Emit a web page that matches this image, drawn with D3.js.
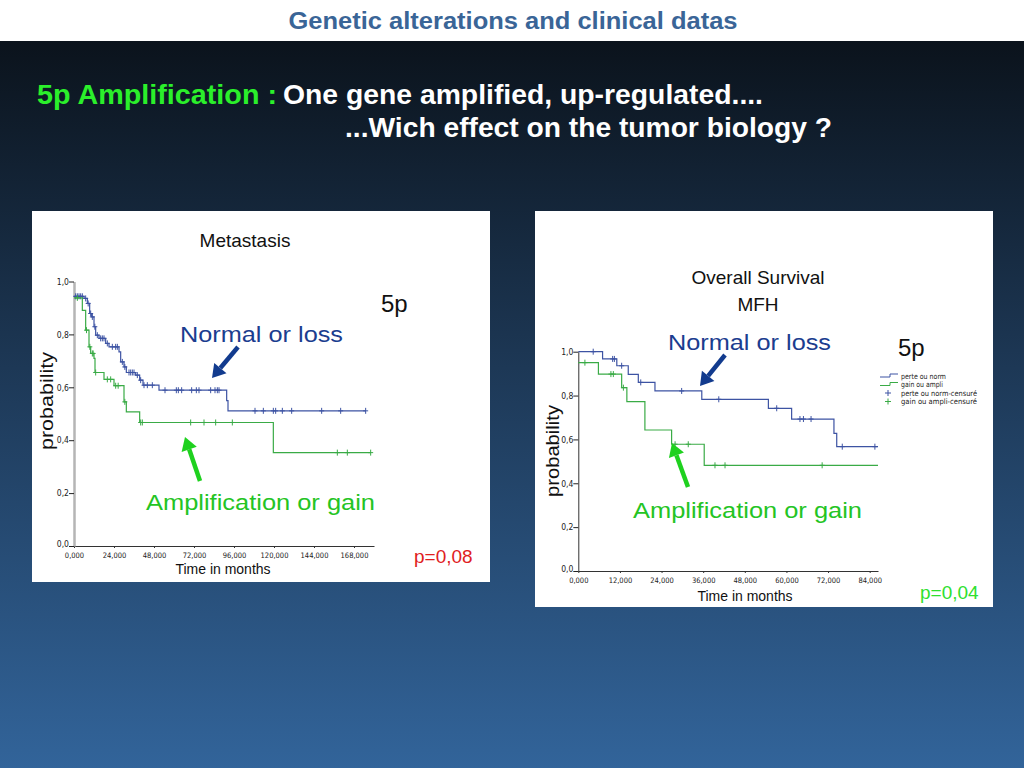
<!DOCTYPE html>
<html>
<head>
<meta charset="utf-8">
<script src="https://cdn.jsdelivr.net/npm/d3@7"></script>
<style>
html,body{margin:0;padding:0;background:#fff;}
svg{display:block;}
text{font-family:"Liberation Sans",Arial,sans-serif;}
.narrow{font-family:"Liberation Sans Narrow","DejaVu Sans Condensed","Liberation Sans",Arial,sans-serif;}
</style>
</head>
<body>
<svg id="chart" width="1024" height="768"></svg>
<script>
// ---------- DATA ----------
// Metastasis (left) : Kaplan-Meier steps [time in months, probability]
const metaNormalSteps = [[0,0.944],[6,0.936],[8,0.917],[9.4,0.879],[10.6,0.866],[12,0.829],[13,0.797],[15,0.785],[19,0.766],[21,0.753],[27,0.734],[28,0.696],[30,0.677],[31.4,0.656],[37,0.646],[39.4,0.627],[41.4,0.608],[51,0.589],[91.6,0.55],[92.4,0.511],[175,0.511]];
const metaAmpliSteps = [[0,0.938],[5,0.891],[7,0.816],[9,0.753],[10,0.728],[12,0.709],[12.6,0.656],[18,0.63],[24,0.606],[30,0.545],[31.4,0.507],[39.4,0.467],[119.6,0.353],[178,0.353]];
const metaNormalCensored = [1,2,3,4,5,7,8.5,10,11,12.5,14,16,17,18,20,23,25,26,29,30.5,33,34,35,36,38,40,42,44,47,54.6,61.4,62.6,64.6,70.6,73.4,75,82,84.6,86,87,108.6,113.6,119.6,121,125,130.6,148.6,160,175];
const metaAmpliCensored = [2,7.5,9.5,11,11.5,13,20,22,25,26.5,30.5,40,41,70,78,85,95,158,164,178];
const metaXTicks = [0,24,48,72,96,120,144,168];

// Overall survival MFH (right)
const osNormalSteps = [[0,1.0],[7,0.967],[11.1,0.936],[14.4,0.897],[17.3,0.86],[22.1,0.821],[35.6,0.783],[54.8,0.742],[61.5,0.693],[73.7,0.628],[74.5,0.567],[86.4,0.567]];
const osAmpliSteps = [[0,0.95],[5.8,0.898],[12.5,0.836],[14,0.772],[19.2,0.643],[26.9,0.578],[36.3,0.482],[86.4,0.482]];
const osNormalCensored = [4.3,9.9,10.4,12.5,18,29.8,40.5,57.2,63.9,64.9,67.1,76.1,85.5];
const osAmpliCensored = [1.9,9.4,10.1,13,27.9,31.7,39.4,42.3,70.3];
const osXTicks = [0,12,24,36,48,60,72,84];

const yTicks = [0,0.2,0.4,0.6,0.8,1.0];
const legendLabels = ["perte ou norm","gain ou ampli","perte ou norm-censuré","gain ou ampli-censuré"];

// ---------- STYLE ----------
const BLUE = "#3d53a3", GREEN = "#3aab46";
const svg = d3.select("#chart");

const defs = svg.append("defs");
const grad = defs.append("linearGradient").attr("id","bg").attr("x1",0).attr("y1",0).attr("x2",0).attr("y2",1);
grad.append("stop").attr("offset","0%").attr("stop-color","#0b131c");
grad.append("stop").attr("offset","45%").attr("stop-color","#1d3856");
grad.append("stop").attr("offset","100%").attr("stop-color","#32649a");

svg.append("rect").attr("x",0).attr("y",0).attr("width",1024).attr("height",41).attr("fill","#ffffff");
svg.append("rect").attr("x",0).attr("y",41).attr("width",1024).attr("height",727).attr("fill","url(#bg)");

svg.append("text").attr("x",513).attr("y",29).attr("text-anchor","middle")
  .attr("font-size",23).attr("font-weight","bold").attr("fill","#3a6597")
  .attr("textLength",449).attr("lengthAdjust","spacingAndGlyphs")
  .text("Genetic alterations and clinical datas");

svg.append("text").attr("x",37).attr("y",104).attr("font-size",27).attr("font-weight","bold")
  .attr("fill","#2bef2b").attr("textLength",240).attr("lengthAdjust","spacingAndGlyphs").text("5p Amplification :");
svg.append("text").attr("x",283).attr("y",104).attr("font-size",27).attr("font-weight","bold")
  .attr("fill","#ffffff").attr("textLength",480).attr("lengthAdjust","spacingAndGlyphs").text("One gene amplified, up-regulated....");
svg.append("text").attr("x",345).attr("y",137).attr("font-size",27).attr("font-weight","bold")
  .attr("fill","#ffffff").attr("textLength",487).attr("lengthAdjust","spacingAndGlyphs").text("...Wich effect on the tumor biology ?");

// panels
svg.append("rect").attr("x",32).attr("y",211).attr("width",458).attr("height",371).attr("fill","#ffffff");
svg.append("rect").attr("x",535).attr("y",211).attr("width",458).attr("height",396).attr("fill","#ffffff");

const fmtY = d => d3.format(".1f")(d).replace(".",",");
const fmtX = d => d3.format(".3f")(d).replace(".",",");

function stepVal(steps, t){
  let v = steps[0][1];
  for (const s of steps){ if (s[0] <= t) v = s[1]; }
  return v;
}

function drawKM(cfg){
  const g = svg.append("g");
  const x = d3.scaleLinear().domain(cfg.xDomain).range(cfg.xRange);
  const y = d3.scaleLinear().domain([0,1]).range(cfg.yRange);

  // y axis
  const ya = g.append("g").attr("transform",`translate(${cfg.xRange[0]},0)`)
    .call(d3.axisLeft(y).tickValues(yTicks).tickFormat(fmtY).tickSize(5).tickSizeOuter(0));
  ya.select(".domain").attr("stroke",cfg.yAxisColor).attr("stroke-width",cfg.yAxisWidth);
  ya.selectAll(".tick line").attr("stroke","#222");
  ya.selectAll(".tick text").attr("class","narrow").attr("font-size",8.5).attr("fill","#222").attr("x",-5)
    .attr("dy",d=>d===0?"0.1em":"0.32em");

  // x axis
  const xa = g.append("g").attr("transform",`translate(0,${cfg.yRange[0]})`)
    .call(d3.axisBottom(x).tickValues(cfg.xTicks).tickFormat(fmtX).tickSize(2).tickSizeOuter(0));
  xa.select(".domain").attr("stroke","#333").attr("stroke-width",1);
  xa.selectAll(".tick line").attr("stroke","#333");
  xa.selectAll(".tick text").attr("class","narrow").attr("font-size",7.5).attr("fill","#222").attr("dy","0.95em");
  ya.raise();

  const line = d3.line().x(d=>x(d[0])).y(d=>y(d[1])).curve(d3.curveStepAfter);
  [[cfg.normal,BLUE,cfg.normalCens],[cfg.ampli,GREEN,cfg.ampliCens]].forEach(([steps,col,cens])=>{
    g.append("path").datum(steps).attr("d",line).attr("fill","none").attr("stroke",col).attr("stroke-width",1.2);
    const cg = g.append("g").attr("stroke",col).attr("stroke-width",1);
    cg.selectAll("path").data(cens).join("path")
      .attr("d",t=>{const cx=x(t), cy=y(stepVal(steps,t)); return `M${cx-2.5},${cy}H${cx+2.5}M${cx},${cy-3}V${cy+3}`;});
  });
  return {x,y};
}

drawKM({xDomain:[0,180], xRange:[74,374], yRange:[546,281.5], xTicks:metaXTicks,
  normal:metaNormalSteps, ampli:metaAmpliSteps, normalCens:metaNormalCensored, ampliCens:metaAmpliCensored,
  yAxisColor:"#b5b5b5", yAxisWidth:2.5});
drawKM({xDomain:[0,86.4], xRange:[578.3,878], yRange:[571,351.7], xTicks:osXTicks,
  normal:osNormalSteps, ampli:osAmpliSteps, normalCens:osNormalCensored, ampliCens:osAmpliCensored,
  yAxisColor:"#333", yAxisWidth:1});

// texts in panels
function txt(x,y,s,size,color,anchor,extra){
  const t = svg.append("text").attr("x",x).attr("y",y).attr("font-size",size).attr("fill",color)
    .attr("text-anchor",anchor||"start").text(s);
  if (extra) extra(t);
  return t;
}
txt(245,247,"Metastasis",19,"#111","middle");
txt(381,312,"5p",24,"#111","start");
txt(180,342,"Normal or loss",22,"#1b3d8f","start",t=>t.attr("textLength",163).attr("lengthAdjust","spacingAndGlyphs"));
txt(146,510,"Amplification or gain",22,"#24c424","start",t=>t.attr("textLength",229).attr("lengthAdjust","spacingAndGlyphs"));
txt(414,563,"p=0,08",19,"#e0201e","start");
txt(223,574,"Time in months",14,"#111","middle");

txt(758,284,"Overall Survival",19,"#111","middle");
txt(758,311,"MFH",19,"#111","middle");
txt(668,350,"Normal or loss",22,"#1b3d8f","start",t=>t.attr("textLength",163).attr("lengthAdjust","spacingAndGlyphs"));
txt(898,356,"5p",24,"#111","start");
txt(633,518,"Amplification or gain",22,"#24c424","start",t=>t.attr("textLength",229).attr("lengthAdjust","spacingAndGlyphs"));
txt(920,599,"p=0,04",19,"#2ee02e","start");
txt(745,601,"Time in months",14,"#111","middle");

// rotated y labels
function ylab(x,y,size,len){
  svg.append("text").attr("transform",`translate(${x},${y}) rotate(-90)`).attr("font-size",size)
    .attr("fill","#111").attr("textLength",len).attr("lengthAdjust","spacingAndGlyphs").text("probability");
}
ylab(53,450,19,98);
ylab(559,497,18,92);

// arrows
function arrow(x1,y1,x2,y2,col){
  const ang = Math.atan2(y2-y1,x2-x1), L=13, W=8;
  const bx = x2 - L*Math.cos(ang), by = y2 - L*Math.sin(ang);
  svg.append("line").attr("x1",x1).attr("y1",y1).attr("x2",bx).attr("y2",by)
    .attr("stroke",col).attr("stroke-width",4.5);
  const px = -Math.sin(ang)*W, py = Math.cos(ang)*W;
  svg.append("path").attr("d",`M${x2},${y2}L${bx+px},${by+py}L${bx-px},${by-py}Z`).attr("fill",col);
}
arrow(238,347,212,378,"#123b8e");
arrow(200,481,185,437,"#1fd11f");
arrow(725,355,700,386,"#123b8e");
arrow(688,487,672,443,"#1fd11f");

// legend (right)
const lg = svg.append("g");
const legendLens = [45,42,76,76];
legendLabels.forEach((s,i)=>{
  const yy = 376 + i*8.5;
  const col = i%2===0 ? BLUE : GREEN;
  if (i<2){
    lg.append("path").attr("d",`M880,${yy+1}H890V${yy-2}H898`).attr("fill","none").attr("stroke",col).attr("stroke-width",1);
  } else {
    lg.append("path").attr("d",`M885,${yy}H891M888,${yy-3}V${yy+3}`).attr("stroke",col).attr("stroke-width",1);
  }
  lg.append("text").attr("class","narrow").attr("x",901).attr("y",yy+2.8).attr("font-size",7.5).attr("fill","#222")
    .attr("textLength",legendLens[i]).attr("lengthAdjust","spacingAndGlyphs").text(s);
});
</script>
</body>
</html>
